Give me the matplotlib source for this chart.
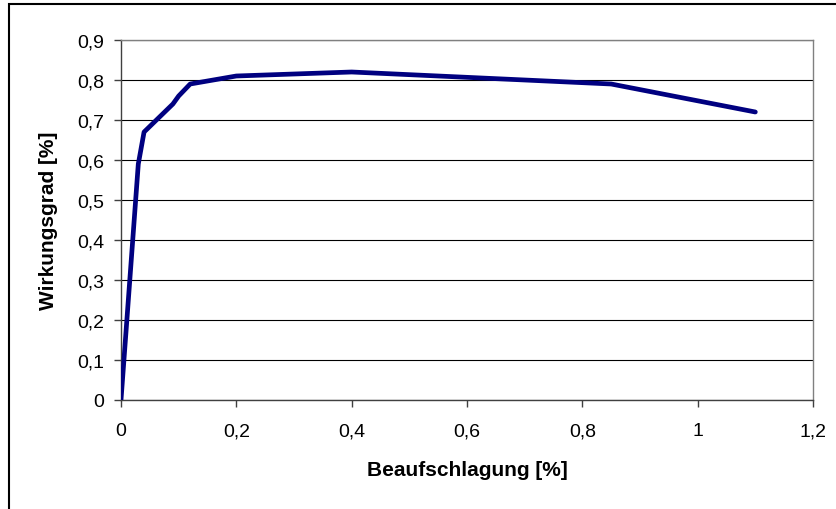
import matplotlib
matplotlib.use('Agg')
import matplotlib.pyplot as plt
from matplotlib.patches import Rectangle
from matplotlib.ticker import FuncFormatter

# Daten
beaufschlagung = [0.0, 0.03, 0.04, 0.09, 0.10, 0.12, 0.2, 0.4, 0.85, 1.1]
wirkungsgrad = [0.0, 0.59, 0.67, 0.74, 0.76, 0.79, 0.81, 0.82, 0.79, 0.72]
x_ticks = [0, 0.2, 0.4, 0.6, 0.8, 1.0, 1.2]
y_ticks = [0, 0.1, 0.2, 0.3, 0.4, 0.5, 0.6, 0.7, 0.8, 0.9]

plt.rcParams['font.family'] = ['Liberation Sans', 'DejaVu Sans']

W, H = 837, 510
fig = plt.figure(figsize=(W / 100, H / 100), dpi=100)
ax = fig.add_axes([121 / W, 1 - 401 / H, (813 - 121) / W, (401 - 41) / H])

ax.plot(beaufschlagung, wirkungsgrad, color='#000080', lw=3.4, solid_capstyle='round',
        solid_joinstyle='round', zorder=3)

ax.set_xlim(0, 1.2)
ax.set_ylim(0, 0.9)
ax.set_xticks(x_ticks)
ax.set_yticks(y_ticks)


def komma(v, pos):
    s = ('%.1f' % v).replace('.', ',')
    if s.endswith(',0'):
        s = s[:-2]
    return s


ax.xaxis.set_major_formatter(FuncFormatter(komma))
ax.yaxis.set_major_formatter(FuncFormatter(komma))
ax.tick_params(labelsize=14, length=5, width=1, direction='out', color='#404040')
ax.tick_params(axis='y', pad=7)
ax.tick_params(axis='x', pad=11)

ax.grid(axis='y', color='black', lw=0.8, zorder=0)
ax.set_axisbelow(True)
ax.spines['left'].set_color('#404040')
ax.spines['bottom'].set_color('#404040')
ax.spines['top'].set_color('#808080')
ax.spines['right'].set_color('#808080')
for s in ax.spines.values():
    s.set_linewidth(1)

ax.set_xlabel('Beaufschlagung [%]', fontsize=15, fontweight='bold', va='center')
ax.set_ylabel('Wirkungsgrad [%]', fontsize=15, fontweight='bold', va='center')
ax.xaxis.set_label_coords(0.5, (401 - 471) / 360)
ax.yaxis.set_label_coords((48 - 121) / 692, 0.5)

# Rahmen um das Diagramm (rechts/unten abgeschnitten)
fig.patches.append(Rectangle((9 / W, -0.1), 1.2, 1.1 - 5 / H,
                             transform=fig.transFigure, fill=False, ec='black', lw=1.5,
                             clip_on=False))

fig.savefig('out.png', dpi=100)
